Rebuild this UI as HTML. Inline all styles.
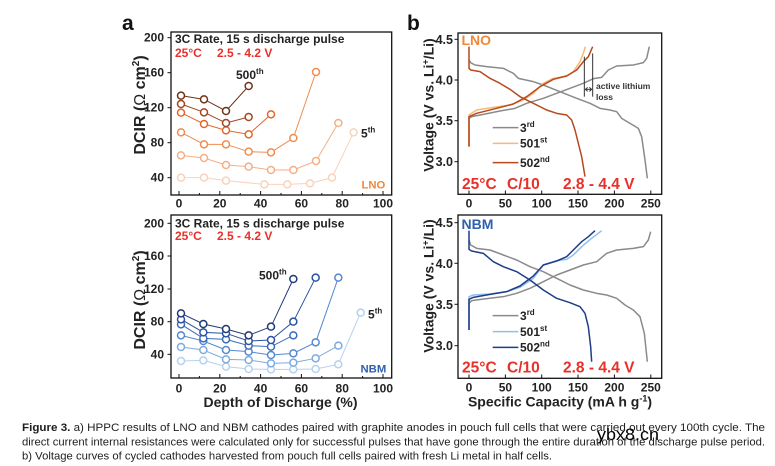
<!DOCTYPE html>
<html><head><meta charset="utf-8"><style>
html,body{margin:0;padding:0;background:#fff;}
svg{display:block;}
text{font-family:"Liberation Sans",Arial,sans-serif;}
.b{font-weight:bold;}
</style></head><body>
<svg width="775" height="466" viewBox="0 0 775 466" xmlns="http://www.w3.org/2000/svg">
<rect width="775" height="466" fill="#fff"/>

<!-- panel labels -->
<text x="122" y="30" class="b" font-size="21" fill="#111">a</text>
<text x="407" y="30" class="b" font-size="21" fill="#111">b</text>

<!-- ===== a top (LNO) ===== -->
<rect x="171" y="32" width="220.7" height="163" fill="none" stroke="#111" stroke-width="1.3"/>
<g stroke="#111" stroke-width="1">
<line x1="167.5" y1="37.7" x2="171" y2="37.7"/><line x1="167.5" y1="72.7" x2="171" y2="72.7"/><line x1="167.5" y1="107.7" x2="171" y2="107.7"/><line x1="167.5" y1="142.7" x2="171" y2="142.7"/><line x1="167.5" y1="177.7" x2="171" y2="177.7"/>
<line x1="179" y1="195" x2="179" y2="191"/><line x1="199.4" y1="195" x2="199.4" y2="193"/><line x1="219.8" y1="195" x2="219.8" y2="191"/><line x1="240.2" y1="195" x2="240.2" y2="193"/><line x1="260.6" y1="195" x2="260.6" y2="191"/><line x1="281" y1="195" x2="281" y2="193"/><line x1="301.4" y1="195" x2="301.4" y2="191"/><line x1="321.8" y1="195" x2="321.8" y2="193"/><line x1="342.2" y1="195" x2="342.2" y2="191"/><line x1="362.6" y1="195" x2="362.6" y2="193"/><line x1="383" y1="195" x2="383" y2="191"/>
</g>
<g class="b" font-size="12" fill="#222" text-anchor="end">
<text x="164" y="41.7">200</text><text x="164" y="76.7">160</text><text x="164" y="111.7">120</text><text x="164" y="146.7">80</text><text x="164" y="181.7">40</text>
</g>
<g class="b" font-size="12" fill="#222" text-anchor="middle">
<text x="179" y="207.5">0</text><text x="219.8" y="207.5">20</text><text x="260.6" y="207.5">40</text><text x="301.4" y="207.5">60</text><text x="342.2" y="207.5">80</text><text x="383" y="207.5">100</text>
</g>
<text transform="translate(145,105) rotate(-90)" text-anchor="middle" class="b" font-size="16" fill="#222">DCIR (<tspan font-weight="normal">Ω</tspan> cm<tspan font-size="10" dy="-6">2</tspan><tspan dy="6">)</tspan></text>
<text x="175" y="43" class="b" font-size="12" fill="#222">3C Rate, 15 s discharge pulse</text>
<text x="175" y="57" class="b" font-size="12" fill="#e8302a">25°C</text>
<text x="217" y="57" class="b" font-size="12" fill="#e8302a">2.5 - 4.2 V</text>

<g transform="translate(110,0) scale(0.33333)" fill="#fff" stroke-width="3">
<g stroke="#f9d2bb"><polyline fill="none" points="213,533 282,533 348,542 463,553 532,553 600,550 666,533 731,397"/>
<g stroke-width="4.5"><circle cx="213" cy="533" r="10.5"/><circle cx="282" cy="533" r="10.5"/><circle cx="348" cy="542" r="10.5"/><circle cx="463" cy="553" r="10.5"/><circle cx="532" cy="553" r="10.5"/><circle cx="600" cy="550" r="10.5"/><circle cx="666" cy="533" r="10.5"/><circle cx="731" cy="397" r="10.5"/></g></g>
<g stroke="#f4ae85"><polyline fill="none" points="213,466 282,474 348,495 416,500 483,510 550,510 618,483 685,369"/>
<g stroke-width="4.5"><circle cx="213" cy="466" r="10.5"/><circle cx="282" cy="474" r="10.5"/><circle cx="348" cy="495" r="10.5"/><circle cx="416" cy="500" r="10.5"/><circle cx="483" cy="510" r="10.5"/><circle cx="550" cy="510" r="10.5"/><circle cx="618" cy="483" r="10.5"/><circle cx="685" cy="369" r="10.5"/></g></g>
<g stroke="#f08d50"><polyline fill="none" points="213,397 282,433 348,433 416,455 483,457 550,414 618,216"/>
<g stroke-width="4.5"><circle cx="213" cy="397" r="10.5"/><circle cx="282" cy="433" r="10.5"/><circle cx="348" cy="433" r="10.5"/><circle cx="416" cy="455" r="10.5"/><circle cx="483" cy="457" r="10.5"/><circle cx="550" cy="414" r="10.5"/><circle cx="618" cy="216" r="10.5"/></g></g>
<g stroke="#e5662a"><polyline fill="none" points="213,338 282,372 348,391 416,403 483,343"/>
<g stroke-width="4.5"><circle cx="213" cy="338" r="10.5"/><circle cx="282" cy="372" r="10.5"/><circle cx="348" cy="391" r="10.5"/><circle cx="416" cy="403" r="10.5"/><circle cx="483" cy="343" r="10.5"/></g></g>
<g stroke="#a0471f"><polyline fill="none" points="213,312 282,337 348,369 416,351"/>
<g stroke-width="4.5"><circle cx="213" cy="312" r="10.5"/><circle cx="282" cy="337" r="10.5"/><circle cx="348" cy="369" r="10.5"/><circle cx="416" cy="351" r="10.5"/></g></g>
<g stroke="#6e3418"><polyline fill="none" points="213,287 282,298 348,333 416,258"/>
<g stroke-width="4.5"><circle cx="213" cy="287" r="10.5"/><circle cx="282" cy="298" r="10.5"/><circle cx="348" cy="333" r="10.5"/><circle cx="416" cy="258" r="10.5"/></g></g>
</g>
<text x="236" y="79" class="b" font-size="12" fill="#222">500<tspan font-size="8" dy="-5">th</tspan></text>
<text x="361" y="137.5" class="b" font-size="12" fill="#222">5<tspan font-size="8" dy="-5">th</tspan></text>
<text x="361.5" y="188.5" class="b" font-size="11.3" fill="#f0883a">LNO</text>

<!-- ===== a bottom (NBM) ===== -->
<rect x="171" y="215" width="220.7" height="163" fill="none" stroke="#111" stroke-width="1.3"/>
<g stroke="#111" stroke-width="1">
<line x1="167.5" y1="223.3" x2="171" y2="223.3"/><line x1="167.5" y1="256" x2="171" y2="256"/><line x1="167.5" y1="289" x2="171" y2="289"/><line x1="167.5" y1="321.7" x2="171" y2="321.7"/><line x1="167.5" y1="354.3" x2="171" y2="354.3"/>
<line x1="179" y1="378" x2="179" y2="374"/><line x1="199.4" y1="378" x2="199.4" y2="376"/><line x1="219.8" y1="378" x2="219.8" y2="374"/><line x1="240.2" y1="378" x2="240.2" y2="376"/><line x1="260.6" y1="378" x2="260.6" y2="374"/><line x1="281" y1="378" x2="281" y2="376"/><line x1="301.4" y1="378" x2="301.4" y2="374"/><line x1="321.8" y1="378" x2="321.8" y2="376"/><line x1="342.2" y1="378" x2="342.2" y2="374"/><line x1="362.6" y1="378" x2="362.6" y2="376"/><line x1="383" y1="378" x2="383" y2="374"/>
</g>
<g class="b" font-size="12" fill="#222" text-anchor="end">
<text x="164" y="227.3">200</text><text x="164" y="260">160</text><text x="164" y="293">120</text><text x="164" y="325.7">80</text><text x="164" y="358.3">40</text>
</g>
<g class="b" font-size="12" fill="#222" text-anchor="middle">
<text x="179" y="392.5">0</text><text x="219.8" y="392.5">20</text><text x="260.6" y="392.5">40</text><text x="301.4" y="392.5">60</text><text x="342.2" y="392.5">80</text><text x="383" y="392.5">100</text>
</g>
<text transform="translate(145,300) rotate(-90)" text-anchor="middle" class="b" font-size="16" fill="#222">DCIR (<tspan font-weight="normal">Ω</tspan> cm<tspan font-size="10" dy="-6">2</tspan><tspan dy="6">)</tspan></text>
<text x="280.5" y="407" text-anchor="middle" class="b" font-size="14" fill="#222">Depth of Discharge (%)</text>
<text x="175" y="227.5" class="b" font-size="12" fill="#222">3C Rate, 15 s discharge pulse</text>
<text x="175" y="240" class="b" font-size="12" fill="#e8302a">25°C</text>
<text x="217" y="240" class="b" font-size="12" fill="#e8302a">2.5 - 4.2 V</text>

<g transform="translate(170,270) scale(0.33333)" fill="#fff" stroke-width="3">
<g stroke="#b3d2ef"><polyline fill="none" points="33,273 100,271 168,290 236,297 303,298 370,298 437,297 505,283 572,128"/>
<g stroke-width="4.5"><circle cx="33" cy="273" r="10.5"/><circle cx="100" cy="271" r="10.5"/><circle cx="168" cy="290" r="10.5"/><circle cx="236" cy="297" r="10.5"/><circle cx="303" cy="298" r="10.5"/><circle cx="370" cy="298" r="10.5"/><circle cx="437" cy="297" r="10.5"/><circle cx="505" cy="283" r="10.5"/><circle cx="572" cy="128" r="10.5"/></g></g>
<g stroke="#7eaadf"><polyline fill="none" points="33,231 100,240 168,268 236,270 303,280 370,278 437,265 505,227"/>
<g stroke-width="4.5"><circle cx="33" cy="231" r="10.5"/><circle cx="100" cy="240" r="10.5"/><circle cx="168" cy="268" r="10.5"/><circle cx="236" cy="270" r="10.5"/><circle cx="303" cy="280" r="10.5"/><circle cx="370" cy="278" r="10.5"/><circle cx="437" cy="265" r="10.5"/><circle cx="505" cy="227" r="10.5"/></g></g>
<g stroke="#5588cf"><polyline fill="none" points="33,196 100,213 168,240 236,245 303,255 370,250 437,217 505,23"/>
<g stroke-width="4.5"><circle cx="33" cy="196" r="10.5"/><circle cx="100" cy="213" r="10.5"/><circle cx="168" cy="240" r="10.5"/><circle cx="236" cy="245" r="10.5"/><circle cx="303" cy="255" r="10.5"/><circle cx="370" cy="250" r="10.5"/><circle cx="437" cy="217" r="10.5"/><circle cx="505" cy="23" r="10.5"/></g></g>
<g stroke="#3c6bbb"><polyline fill="none" points="33,163 100,205 168,208 236,227 303,230 370,196"/>
<g stroke-width="4.5"><circle cx="33" cy="163" r="10.5"/><circle cx="100" cy="205" r="10.5"/><circle cx="168" cy="208" r="10.5"/><circle cx="236" cy="227" r="10.5"/><circle cx="303" cy="230" r="10.5"/><circle cx="370" cy="196" r="10.5"/></g></g>
<g stroke="#2b52a0"><polyline fill="none" points="33,148 100,187 168,190 236,213 303,210 370,155 437,23"/>
<g stroke-width="4.5"><circle cx="33" cy="148" r="10.5"/><circle cx="100" cy="187" r="10.5"/><circle cx="168" cy="190" r="10.5"/><circle cx="236" cy="213" r="10.5"/><circle cx="303" cy="210" r="10.5"/><circle cx="370" cy="155" r="10.5"/><circle cx="437" cy="23" r="10.5"/></g></g>
<g stroke="#1e3a78"><polyline fill="none" points="33,130 100,162 168,177 236,196 303,170 370,27"/>
<g stroke-width="4.5"><circle cx="33" cy="130" r="10.5"/><circle cx="100" cy="162" r="10.5"/><circle cx="168" cy="177" r="10.5"/><circle cx="236" cy="196" r="10.5"/><circle cx="303" cy="170" r="10.5"/><circle cx="370" cy="27" r="10.5"/></g></g>
</g>
<text x="259" y="279.5" class="b" font-size="12" fill="#222">500<tspan font-size="8" dy="-5">th</tspan></text>
<text x="368" y="318.5" class="b" font-size="12" fill="#222">5<tspan font-size="8" dy="-5">th</tspan></text>
<text x="360.5" y="372.5" class="b" font-size="11.3" fill="#2f5fae">NBM</text>

<!-- ===== b top (LNO) ===== -->
<rect x="458" y="33" width="203.7" height="161.3" fill="none" stroke="#111" stroke-width="1.3"/>
<g stroke="#111" stroke-width="1">
<line x1="454.5" y1="39.3" x2="458" y2="39.3"/><line x1="454.5" y1="80" x2="458" y2="80"/><line x1="454.5" y1="120.7" x2="458" y2="120.7"/><line x1="454.5" y1="161.7" x2="458" y2="161.7"/>
<line x1="469" y1="194.3" x2="469" y2="190.5"/><line x1="505.4" y1="194.3" x2="505.4" y2="190.5"/><line x1="541.7" y1="194.3" x2="541.7" y2="190.5"/><line x1="578" y1="194.3" x2="578" y2="190.5"/><line x1="614.4" y1="194.3" x2="614.4" y2="190.5"/><line x1="650.8" y1="194.3" x2="650.8" y2="190.5"/>
</g>
<g class="b" font-size="12.5" fill="#222" text-anchor="end">
<text x="453" y="43.8">4.5</text><text x="453" y="84.5">4.0</text><text x="453" y="125.2">3.5</text><text x="453" y="166.2">3.0</text>
</g>
<g class="b" font-size="12" fill="#222" text-anchor="middle">
<text x="469" y="207.5">0</text><text x="505.4" y="207.5">50</text><text x="541.7" y="207.5">100</text><text x="578" y="207.5">150</text><text x="614.4" y="207.5">200</text><text x="650.8" y="207.5">250</text>
</g>
<text transform="translate(433.5,105) rotate(-90)" text-anchor="middle" class="b" font-size="14" fill="#222">Voltage (V vs. Li<tspan font-size="9" dy="-5">+</tspan><tspan dy="5">/Li)</tspan></text>

<g transform="translate(400,0) scale(0.33333)" fill="none" stroke-width="4.5" stroke-linejoin="round">
<polyline stroke="#8a8a8a" points="207,440 207,355 215,350 250,343 300,333 345,325 380,310 430,295 470,280 510,265 550,250 580,236 605,232 625,210 650,198 700,195 730,188 740,175 748,140"/>
<polyline stroke="#8a8a8a" points="207,180 212,188 225,195 260,200 310,205 340,220 355,235 400,245 430,255 480,275 530,295 570,310 600,325 630,330 650,335 665,355 690,370 715,385 725,410 735,480 742,535"/>
<polyline stroke="#f8b878" points="207,440 207,345 230,330 280,322 330,315 370,300 400,280 430,250 460,235 500,228 520,215 540,185 550,160 556,140"/>
<polyline stroke="#b8481e" points="207,440 207,350 230,340 290,325 340,312 380,290 420,260 460,238 500,228 530,210 550,185 565,170 578,140"/>
<polyline stroke="#b8481e" points="207,140 207,205 212,210 240,215 270,235 300,250 330,268 360,290 400,310 440,330 470,340 500,345 515,360 525,390 535,430 545,470 555,530"/>
<g stroke="#333" stroke-width="3">
<line x1="553" y1="170" x2="553" y2="290"/><line x1="578" y1="160" x2="578" y2="290"/>
<line x1="557" y1="268" x2="574" y2="268"/>
<polyline points="563,262 556,268 563,274"/><polyline points="568,262 575,268 568,274"/>
</g>
<g stroke-width="4.5">
<line x1="278" y1="383" x2="355" y2="383" stroke="#8a8a8a"/>
<line x1="278" y1="430" x2="355" y2="430" stroke="#f8b878"/>
<line x1="278" y1="488" x2="355" y2="488" stroke="#b8481e"/>
</g>
</g>
<text x="596" y="89" class="b" font-size="8.5" fill="#333">active lithium</text>
<text x="596" y="100" class="b" font-size="8.5" fill="#333">loss</text>
<g class="b" font-size="12" fill="#222">
<text x="520" y="132">3<tspan font-size="8" dy="-5">rd</tspan></text>
<text x="520" y="147.5">501<tspan font-size="8" dy="-5">st</tspan></text>
<text x="520" y="167">502<tspan font-size="8" dy="-5">nd</tspan></text>
</g>
<text x="461.5" y="45" class="b" font-size="14" fill="#f0883a">LNO</text>
<g class="b" font-size="15.5" fill="#e8302a">
<text x="462" y="189">25°C</text><text x="507" y="189">C/10</text><text x="563" y="189">2.8 - 4.4 V</text>
</g>

<!-- ===== b bottom (NBM) ===== -->
<rect x="458" y="215" width="203.7" height="163.3" fill="none" stroke="#111" stroke-width="1.3"/>
<g stroke="#111" stroke-width="1">
<line x1="454.5" y1="222.7" x2="458" y2="222.7"/><line x1="454.5" y1="263.3" x2="458" y2="263.3"/><line x1="454.5" y1="304.3" x2="458" y2="304.3"/><line x1="454.5" y1="345.7" x2="458" y2="345.7"/>
<line x1="469" y1="378.3" x2="469" y2="374.5"/><line x1="505.4" y1="378.3" x2="505.4" y2="374.5"/><line x1="541.7" y1="378.3" x2="541.7" y2="374.5"/><line x1="578" y1="378.3" x2="578" y2="374.5"/><line x1="614.4" y1="378.3" x2="614.4" y2="374.5"/><line x1="650.8" y1="378.3" x2="650.8" y2="374.5"/>
</g>
<g class="b" font-size="12.5" fill="#222" text-anchor="end">
<text x="453" y="227.2">4.5</text><text x="453" y="267.8">4.0</text><text x="453" y="308.8">3.5</text><text x="453" y="350.2">3.0</text>
</g>
<g class="b" font-size="12" fill="#222" text-anchor="middle">
<text x="469" y="391.5">0</text><text x="505.4" y="391.5">50</text><text x="541.7" y="391.5">100</text><text x="578" y="391.5">150</text><text x="614.4" y="391.5">200</text><text x="650.8" y="391.5">250</text>
</g>
<text transform="translate(433.5,286) rotate(-90)" text-anchor="middle" class="b" font-size="14" fill="#222">Voltage (V vs. Li<tspan font-size="9" dy="-5">+</tspan><tspan dy="5">/Li)</tspan></text>
<text x="560" y="406.5" text-anchor="middle" class="b" font-size="14" fill="#222">Specific Capacity (mA h g<tspan font-size="9" dy="-5">-1</tspan><tspan dy="5">)</tspan></text>

<g transform="translate(400,200) scale(0.33333)" fill="none" stroke-width="4.5" stroke-linejoin="round">
<polyline stroke="#8a8a8a" points="207,390 207,310 215,302 260,296 310,290 350,280 390,265 430,245 470,225 510,210 550,195 590,185 620,160 650,150 700,145 730,140 745,120 752,95"/>
<polyline stroke="#8a8a8a" points="207,120 212,135 230,145 270,150 310,165 350,180 390,200 430,215 470,235 510,255 550,270 590,280 620,285 650,295 675,315 700,330 720,350 733,400 742,485"/>
<polyline stroke="#8ec0ea" points="207,390 207,290 220,285 270,282 320,275 360,262 400,235 430,195 470,182 500,178 520,165 545,140 575,115 605,92"/>
<polyline stroke="#1f3c88" points="207,390 207,298 220,292 270,283 320,275 360,258 400,228 430,195 470,183 500,170 520,150 545,125 565,110 585,92"/>
<polyline stroke="#1f3c88" points="207,92 207,148 215,153 250,160 280,185 310,200 350,215 390,240 430,270 470,295 510,308 540,320 555,340 565,380 572,440 575,485"/>
<line x1="278" y1="347" x2="355" y2="347" stroke="#8a8a8a"/>
<line x1="278" y1="395" x2="355" y2="395" stroke="#8ec0ea"/>
<line x1="278" y1="442" x2="355" y2="442" stroke="#1f3c88"/>
</g>
<g class="b" font-size="12" fill="#222">
<text x="520" y="320">3<tspan font-size="8" dy="-5">rd</tspan></text>
<text x="520" y="336">501<tspan font-size="8" dy="-5">st</tspan></text>
<text x="520" y="351.5">502<tspan font-size="8" dy="-5">nd</tspan></text>
</g>
<text x="461.5" y="229" class="b" font-size="14" fill="#2f5fae">NBM</text>
<g class="b" font-size="15.5" fill="#e8302a">
<text x="462" y="372.5">25°C</text><text x="507" y="372.5">C/10</text><text x="563" y="372.5">2.8 - 4.4 V</text>
</g>

<!-- caption -->
<g font-size="11.4" fill="#1e1e1e">
<text x="22" y="431" textLength="743" lengthAdjust="spacingAndGlyphs"><tspan font-weight="bold">Figure 3.</tspan> a) HPPC results of LNO and NBM cathodes paired with graphite anodes in pouch full cells that were carried out every 100th cycle. The</text>
<text x="22" y="445.5" textLength="743" lengthAdjust="spacingAndGlyphs">direct current internal resistances were calculated only for successful pulses that have gone through the entire duration of the discharge pulse period.</text>
<text x="22" y="459.5" textLength="530" lengthAdjust="spacingAndGlyphs">b) Voltage curves of cycled cathodes harvested from pouch full cells paired with fresh Li metal in half cells.</text>
</g>
<text x="597" y="440" font-size="17" fill="#000" textLength="62" lengthAdjust="spacingAndGlyphs">ybx8.cn</text>
</svg>
</body></html>
